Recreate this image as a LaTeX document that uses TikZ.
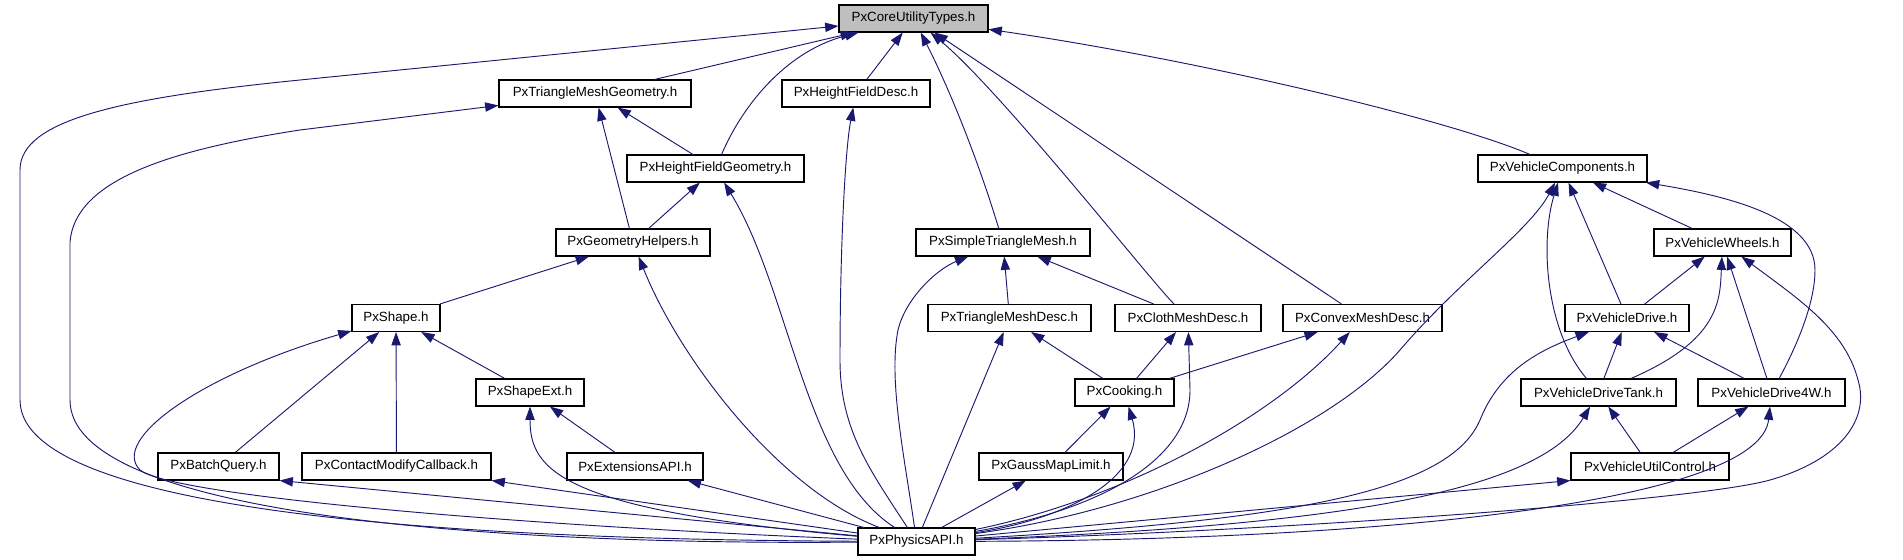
\documentclass[tikz,border=0pt]{standalone}
\usepackage{fontspec}
\setmainfont{Liberation Sans}
\usetikzlibrary{arrows.meta}
\definecolor{depblue}{RGB}{25,25,112}
\definecolor{hdrgray}{RGB}{191,191,191}

\begin{document}
\begin{tikzpicture}[x=0.75pt,y=-0.75pt,
  hdr/.style={draw=black,line width=0.8pt,fill=white,font=\fontsize{10pt}{12pt}\selectfont,
    inner xsep=2pt,inner ysep=0pt,minimum height=20.25pt},
  dep/.style={draw=depblue,line width=0.7pt,-{Triangle[length=10pt,width=7pt]}}]
\useasboundingbox (0,0) rectangle (1903,560);

\node[hdr,fill=hdrgray,minimum width=111.75pt] (core) at (913.5,18.5) {PxCoreUtilityTypes.h};
\node[hdr,minimum width=144pt] (tmg) at (595,93.5) {PxTriangleMeshGeometry.h};
\node[hdr,minimum width=111pt] (hfd) at (856,93.5) {PxHeightFieldDesc.h};
\node[hdr,minimum width=132.75pt] (hfg) at (715.5,168.5) {PxHeightFieldGeometry.h};
\node[hdr,minimum width=126.75pt] (vcomp) at (1562.5,168.5) {PxVehicleComponents.h};
\node[hdr,minimum width=115.5pt] (geoh) at (633,242.5) {PxGeometryHelpers.h};
\node[hdr,minimum width=130.5pt] (stm) at (1003,242.5) {PxSimpleTriangleMesh.h};
\node[hdr,minimum width=102.75pt] (vwheels) at (1722.5,242.5) {PxVehicleWheels.h};
\node[hdr,minimum width=66pt] (shape) at (396,318) {PxShape.h};
\node[hdr,minimum width=122.25pt] (tmd) at (1009.5,318) {PxTriangleMeshDesc.h};
\node[hdr,minimum width=109.5pt] (cmd) at (1188,318) {PxClothMeshDesc.h};
\node[hdr,minimum width=119.25pt] (cvx) at (1362.5,318) {PxConvexMeshDesc.h};
\node[hdr,minimum width=93pt] (vdrive) at (1627,318) {PxVehicleDrive.h};
\node[hdr,minimum width=81pt] (shapeext) at (530,392.5) {PxShapeExt.h};
\node[hdr,minimum width=74.25pt] (cooking) at (1124.5,392.5) {PxCooking.h};
\node[hdr,minimum width=116.25pt] (vtank) at (1598.5,392.5) {PxVehicleDriveTank.h};
\node[hdr,minimum width=110.25pt] (v4w) at (1771.5,392.5) {PxVehicleDrive4W.h};
\node[hdr,minimum width=90.75pt] (batch) at (218.5,466.5) {PxBatchQuery.h};
\node[hdr,minimum width=141.75pt] (contact) at (396.5,466.5) {PxContactModifyCallback.h};
\node[hdr,minimum width=102pt] (ext) at (635,466.5) {PxExtensionsAPI.h};
\node[hdr,minimum width=108pt] (gauss) at (1051,466.5) {PxGaussMapLimit.h};
\node[hdr,minimum width=118.5pt] (vutil) at (1650,466.5) {PxVehicleUtilControl.h};
\node[hdr,minimum width=87.75pt] (physics) at (916.5,541.5) {PxPhysicsAPI.h};

\draw[dep] (tmg) -- (core);
\draw[dep] (hfg) .. controls (745,100) and (790,50) .. (core);
\draw[dep] (hfd) -- (core);
\draw[dep] (stm) .. controls (975,150) and (945,80) .. (core);
\draw[dep] (cmd) .. controls (1150,280) and (1000,90) .. (core);
\draw[dep] (cvx) -- (core);
\draw[dep] (vcomp) .. controls (1450,120) and (1200,60) .. (core);
\draw[dep] (physics) .. controls (560,540) and (20,525) .. (20,400) -- (20,170) .. controls (20,120) and (120,98) .. (300,80) -- (core);

\draw[dep] (physics) .. controls (560,545) and (70,525) .. (70,400) -- (70,242) .. controls (75,180) and (170,150) .. (300,130) -- (tmg);
\draw[dep] (hfg) -- (tmg);
\draw[dep] (geoh) -- (tmg);
\draw[dep] (geoh) -- (hfg);
\draw[dep] (physics) .. controls (805,470) and (790,290) .. (hfg);
\draw[dep] (shape) -- (geoh);
\draw[dep] (physics) .. controls (780,490) and (680,360) .. (geoh);
\draw[dep] (physics) .. controls (870,470) and (840,430) .. (840,360) .. controls (840,250) and (845,150) .. (hfd);

\draw[dep] (physics) .. controls (905,460) and (888,380) .. (898,330) .. controls (905,300) and (935,270) .. (stm);
\draw[dep] (tmd) -- (stm);
\draw[dep] (cmd) -- (stm);
\draw[dep] (cooking) -- (tmd);
\draw[dep] (physics) -- (tmd);
\draw[dep] (cooking) -- (cmd);
\draw[dep] (physics) .. controls (1100,510) and (1190,460) .. (1190,390) -- (cmd);
\draw[dep] (cooking) -- (cvx);
\draw[dep] (physics) .. controls (1120,500) and (1270,420) .. (cvx);
\draw[dep] (gauss) -- (cooking);
\draw[dep] (physics) .. controls (1060,520) and (1150,480) .. (cooking);
\draw[dep] (physics) -- (gauss);

\draw[dep] (physics) -- (ext);
\draw[dep] (physics) .. controls (560,510) and (530,470) .. (shapeext);
\draw[dep] (ext) -- (shapeext);
\draw[dep] (shapeext) -- (shape);
\draw[dep] (batch) -- (shape);
\draw[dep] (contact) -- (shape);
\draw[dep] (physics) .. controls (500,525) and (170,495) .. (140,470) .. controls (110,440) and (200,375) .. (shape);
\draw[dep] (physics) -- (batch.south east);
\draw[dep] (physics) -- (contact.south east);

\draw[dep] (physics) .. controls (1150,510) and (1330,430) .. (1400,350) .. controls (1460,280) and (1530,230) .. (vcomp);
\draw[dep] (vdrive) -- (vcomp);
\draw[dep] (vtank) .. controls (1545,330) and (1540,240) .. (vcomp);
\draw[dep] (vwheels) -- (vcomp);
\draw[dep] (v4w) .. controls (1800,340) and (1815,300) .. (1815,270) .. controls (1815,215) and (1720,195) .. (vcomp);
\draw[dep] (vdrive) -- (vwheels);
\draw[dep] (vtank) .. controls (1720,340) and (1720,300) .. (vwheels);
\draw[dep] (v4w) -- (vwheels);
\draw[dep] (physics) .. controls (1300,530) and (1700,500) .. (1770,480) .. controls (1840,460) and (1870,420) .. (1858,380) .. controls (1845,330) and (1800,300) .. (vwheels);
\draw[dep] (vtank) -- (vdrive);
\draw[dep] (v4w) -- (vdrive);
\draw[dep] (physics) .. controls (1300,520) and (1450,490) .. (1480,420) .. controls (1500,370) and (1540,350) .. (vdrive);
\draw[dep] (vutil) -- (vtank);
\draw[dep] (physics) .. controls (1350,525) and (1540,490) .. (vtank);
\draw[dep] (vutil) -- (v4w);
\draw[dep] (physics) .. controls (1400,540) and (1760,500) .. (v4w);
\draw[dep] (physics) -- (vutil.south west);
\end{tikzpicture}
\end{document}
